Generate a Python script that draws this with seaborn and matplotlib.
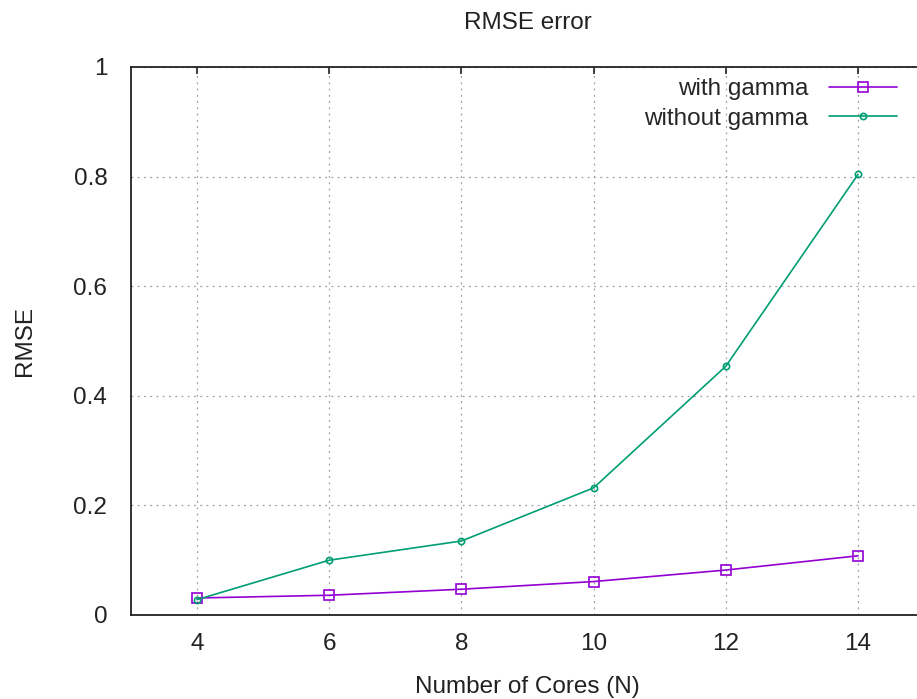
import matplotlib
matplotlib.use("Agg")
import matplotlib.pyplot as plt
import pandas as pd
import seaborn as sns

cores = [4, 6, 8, 10, 12, 14]
with_gamma = [0.031, 0.036, 0.047, 0.061, 0.082, 0.108]
without_gamma = [0.028, 0.100, 0.135, 0.232, 0.454, 0.804]
series_names = ["with gamma", "without gamma"]

df = pd.DataFrame({
    "cores": cores * 2,
    "rmse": with_gamma + without_gamma,
    "series": [series_names[0]] * len(cores) + [series_names[1]] * len(cores),
})

sns.set_style("white")
plt.rcParams["font.family"] = ["Liberation Sans", "DejaVu Sans"]

fig = plt.figure(figsize=(9.17, 6.99), dpi=100)
ax = fig.add_axes([0.1428, 0.1202, 0.865, 0.784])

colors = {"with gamma": "#9400D3", "without gamma": "#009E73"}
styles = {"with gamma": ("s", 6.5), "without gamma": ("o", 4.5)}
for name in series_names:
    sub = df[df["series"] == name]
    m, ms = styles[name]
    sns.lineplot(data=sub, x="cores", y="rmse", ax=ax, color=colors[name],
                 marker=m, markersize=ms, markerfacecolor="none",
                 markeredgecolor=colors[name], markeredgewidth=1.2,
                 linewidth=1.2, label=name)

ax.set_xlim(3, 15)
ax.set_ylim(0, 1)
ax.set_xticks(cores)
ax.set_yticks([0, 0.2, 0.4, 0.6, 0.8, 1])
ax.set_yticklabels(["0", "0.2", "0.4", "0.6", "0.8", "1"])
ax.grid(True, color="#a0a0a0", linestyle=(0, (1.5, 3.5)), linewidth=0.9)
ax.tick_params(axis="both", direction="in", length=5, width=1.2, labelsize=17.5,
               colors="#222222", top=True, right=True)
ax.tick_params(axis="x", pad=13)
ax.tick_params(axis="y", pad=17)
for side in ["left", "bottom", "top", "right"]:
    ax.spines[side].set_color("#222222")
    ax.spines[side].set_linewidth(1.3)

ax.set_title("RMSE error", fontsize=17.5, pad=27, color="#222222")
ax.set_xlabel("Number of Cores (N)", fontsize=17.5, labelpad=15, color="#222222")
ax.set_ylabel("RMSE", fontsize=17.5, labelpad=27, color="#222222")

ax.legend(loc="upper right", bbox_to_anchor=(897 / 917, 1 - 78 / 699),
          bbox_transform=fig.transFigure, frameon=False, markerfirst=False,
          fontsize=17.5, handlelength=2.8, handletextpad=0.85, labelspacing=0.32,
          borderaxespad=0, borderpad=0)

fig.savefig("out.png", dpi=100)
